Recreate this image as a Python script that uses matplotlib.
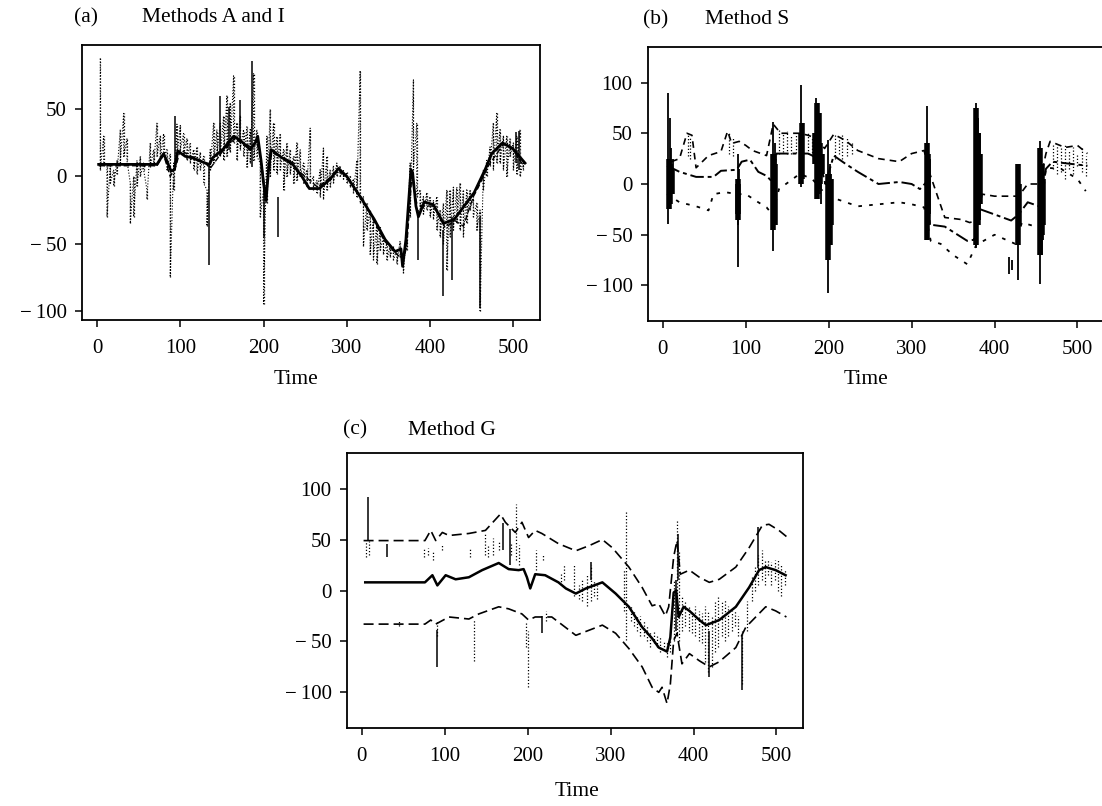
import numpy as np
import matplotlib
matplotlib.use("Agg")
import matplotlib.pyplot as plt
from matplotlib.ticker import FuncFormatter

plt.rcParams['font.family'] = ['Liberation Serif', 'DejaVu Serif']
plt.rcParams['font.size'] = 14

# ---------------- data: panel (a) ----------------
a_trend_t = [2, 72, 80, 89, 93, 97, 106, 114, 130, 135, 139, 151, 164, 172, 184, 190, 193, 197,
             200, 203, 206, 209, 222, 234, 246, 255, 267, 280, 290, 300, 317, 333, 346, 358, 365,
             367, 371, 377, 379, 383, 386, 393, 404, 416, 429, 441, 453, 466, 474, 487, 499, 514]
a_trend_v = [9, 9, 17, 4, 5, 19, 15, 14, 10, 9, 14, 20, 30, 27, 20, 25, 30, 12,
             -5, -18, 5, 20, 14, 10, 0, -9, -9, -2, 6, 0, -16, -32, -47, -56, -54,
             -67, -47, 5, 3, -22, -30, -19, -21, -35, -32, -22, -12, 5, 17, 25, 21, 10]
a_alt_t = [2, 72, 80, 88, 95, 100, 110, 130, 136, 150, 165, 185, 192, 198, 202, 210, 225, 250,
           265, 290, 300, 320, 345, 360, 368, 372, 378, 384, 390, 405, 418, 430, 440, 452, 458,
           470, 488, 500, 512]
a_alt_v = [8, 8, 16, 0, 8, 20, 16, 10, 6, 18, 28, 22, 26, 8, -12, 18, 13, 0,
           -8, 4, 0, -18, -48, -58, -62, -52, 0, -20, -22, -22, -38, -33, -37, -15, -8,
           8, 24, 20, 8]
a_obs_t = [4, 8, 12, 16, 20, 24, 28, 32, 36, 40, 44, 48, 52, 56, 60, 64, 68, 72, 76, 80,
           84, 88, 92, 96, 100, 104, 108, 112, 116, 120, 124, 128, 132, 136, 140, 144, 148,
           152, 156, 160, 164, 168, 172, 176, 180, 184, 188, 192, 196, 200, 204, 208, 212,
           216, 220, 224, 228, 232, 236, 240, 244, 248, 252, 256, 260, 264, 268, 272, 276,
           280, 284, 288, 292, 296, 300, 304, 308, 312, 316, 320, 324, 328, 332, 336, 340,
           344, 348, 352, 356, 360, 364, 368, 372, 376, 380, 384, 388, 392, 396, 400, 404,
           408, 412, 416, 420, 424, 428, 432, 436, 440, 444, 448, 452, 456, 460, 464, 468,
           472, 476, 480, 484, 488, 492, 496, 500, 504, 508, 512]
a_obs_lo = [5, 8, -30, -5, -7, 2, 10, 15, 12, -35, -30, -7, 0, 5, -17, 7, 8, 15, 12, 15,
            5, -75, -10, 15, 20, 17, 12, 10, 5, 2, 5, -5, -37, 5, 10, 15, 15,
            12, 15, 18, 25, 12, 20, 15, 7, 10, 12, 15, -30, -95, -20, 0, 5,
            2, 5, -10, 0, 2, -5, -3, 0, -5, -8, -5, -10, -12, -15, -17, -10,
            -8, -5, 0, 0, -2, -5, -8, -12, -15, -20, -52, -40, -58, -62, -65, -55,
            -58, -62, -60, -62, -65, -60, -72, -55, -30, 5, -15, -25, -28, -25, -30, -32,
            -40, -45, -50, -70, -45, -40, -35, -40, -45, -35, -25, -30, -40, -100, -10, 0,
            8, 5, 10, 10, 5, 0, 15, 5, 2, 0, 5]
a_obs_hi = [88, 30, 10, 8, 5, 12, 35, 47, 28, -5, 0, 12, 15, 10, -10, 25, 20, 40, 30, 32,
            20, 17, 10, 39, 38, 32, 28, 25, 20, 22, 18, 15, -10, 20, 40, 35, 40,
            45, 60, 55, 75, 40, 45, 35, 37, 35, 77, 35, 10, -10, 30, 50, 40,
            30, 32, 20, 25, 20, 15, 25, 20, 10, 5, 36, 0, -3, 5, 22, 15,
            5, 8, 10, 8, 5, 3, 0, -2, 12, 79, -15, -20, -25, -30, -35, -38,
            -45, -50, -52, -52, -55, -48, -58, -40, 10, 72, 40, -10, -15, -12, -15, -18,
            -15, -25, -20, -10, -10, -8, -8, -5, -10, -10, -10, -15, -20, -25, 5, 12,
            22, 40, 47, 35, 30, 30, 28, 25, 30, 35, 12]
a_spk_t = [94, 135, 148, 159, 172, 186, 200, 217, 385, 416, 426, 460, 503, 507]
a_spk_lo = [5, -66, 15, 20, 25, 7, -45, -45, -62, -89, -77, -98, 10, 5]
a_spk_hi = [45, 10, 60, 52, 57, 86, -5, -15, -25, -40, -30, -30, 33, 34]

# ---------------- data: panel (b) ----------------
b_up_t = [10, 20, 29, 35, 40, 55, 70, 78, 83, 92, 100, 108, 125, 133, 142, 165, 175, 185,
          195, 206, 220, 235, 260, 285, 300, 315, 322, 340, 360, 370, 378, 385, 400, 429,
          440, 454, 462, 467, 485, 500, 512]
b_up_v = [22, 25, 50, 48, 16, 28, 32, 52, 40, 42, 38, 33, 28, 59, 50, 50, 48, 45,
          35, 49, 43, 33, 25, 22, 30, 33, 10, -33, -35, -38, -36, -10, -12, -12,
          0, 0, 30, 42, 36, 38, 30]
b_mid_t = [5, 20, 40, 61, 70, 89, 95, 105, 115, 125, 132, 137, 150, 165, 175, 188, 196, 206,
           220, 235, 260, 285, 300, 310, 318, 322, 340, 367, 375, 383, 400, 420, 429, 440,
           454, 462, 470, 490, 512]
b_mid_v = [18, 12, 7, 7, 13, 14, 22, 24, 12, 8, 2, 30, 30, 30, 30, 25, 0, 28,
           20, 12, 0, 2, 0, -5, 2, -40, -42, -56, -55, -25, -30, -36, -30, -18,
           -22, 15, 22, 20, 18]
b_lo_t = [5, 20, 40, 55, 61, 75, 89, 100, 115, 125, 132, 140, 165, 180, 196, 210, 235, 260,
          285, 300, 315, 323, 335, 350, 367, 378, 400, 425, 433, 454, 462, 480, 500, 510]
b_lo_v = [-10, -18, -22, -26, -10, -8, -10, -10, -18, -23, -30, -5, 10, 5, -10, -15, -22, -20,
          -18, -20, -23, -56, -59, -70, -79, -60, -50, -59, -38, -43, 16, 15, 5, -7]
b_spk_t = [6, 8, 10, 12, 90, 91, 92, 133, 135, 136, 167, 168, 185, 187, 189, 191, 199, 201,
           203, 318, 320, 322, 378, 380, 382, 417, 421, 428, 430, 455, 457, 459]
b_spk_lo = [-39, -25, -20, -10, -82, -40, -30, -66, -40, -20, -3, 0, -13, -5, -10, -20, -107, -60,
            -40, -52, -40, -30, -63, -40, -35, -89, -85, -95, -50, -99, -70, -55]
b_spk_hi = [90, 65, 35, 25, 30, 5, 15, 61, 40, 30, 98, 60, 85, 70, 60, 40, 43, 20,
            10, 77, 40, 25, 80, 65, 50, -72, -75, 19, 0, 42, 20, 10]
b_core_t = [7, 9, 11, 90, 91, 133, 135, 166, 168, 184, 186, 188, 190, 192, 199, 201, 203,
            318, 320, 378, 380, 382, 428, 430, 455, 457, 459]
b_core_lo = [-25, -20, -10, -35, -30, -45, -40, 0, 5, 20, -15, -5, 0, 10, -75, -60, -40,
             -55, -40, -60, -40, -20, -60, -40, -70, -50, -40]
b_core_hi = [25, 20, 15, 5, 0, 30, 20, 50, 60, 50, 80, 70, 40, 30, 10, 0, 5,
             40, 30, 75, 50, 30, 20, 0, 35, 20, 5]
b_obs_t = [30, 33, 80, 84, 140, 145, 150, 155, 160, 175, 180, 208, 212, 216, 222, 228, 470,
           475, 480, 485, 490, 495, 500, 505, 510]
b_obs_lo = [28, 25, 30, 28, 30, 32, 30, 30, 31, 30, 28, 25, 30, 25, 28, 30, 15,
            10, 12, 5, 15, 10, 18, 12, 8]
b_obs_hi = [48, 45, 50, 45, 55, 50, 52, 48, 50, 50, 45, 50, 45, 48, 46, 40, 40,
            38, 35, 38, 33, 36, 30, 35, 28]

# ---------------- data: panel (c) ----------------
c_up_t = [2, 76, 83, 89, 97, 105, 129, 149, 167, 173, 185, 193, 201, 209, 217, 237, 258,
          274, 290, 302, 322, 338, 350, 358, 366, 370, 376, 380, 384, 395, 407, 419, 431,
          451, 467, 483, 491, 503, 512]
c_up_v = [49, 49, 59, 49, 57, 54, 56, 59, 75, 67, 57, 67, 52, 59, 56, 46, 39,
          44, 50, 42, 23, 3, -15, -13, -25, -16, 33, 49, 16, 20, 13, 8, 11,
          23, 42, 64, 65, 59, 53]
c_mid_t = [4, 76, 85, 91, 101, 113, 129, 145, 165, 177, 189, 195, 199, 203, 209, 221, 237,
           246, 258, 270, 290, 306, 322, 338, 350, 358, 368, 372, 376, 379, 382, 388, 395,
           407, 415, 431, 451, 467, 479, 487, 499, 511]
c_mid_v = [8, 8, 15, 5, 15, 11, 13, 20, 27, 21, 20, 21, 13, 2, 16, 15, 8,
           2, -3, 2, 8, -3, -16, -36, -47, -56, -60, -46, -2, 0, -26, -16, -20,
           -29, -34, -29, -16, 3, 20, 23, 20, 15]
c_lo_t = [2, 76, 83, 89, 105, 129, 141, 165, 177, 193, 201, 209, 229, 242, 258, 274, 290,
          306, 322, 338, 350, 358, 362, 368, 372, 376, 380, 386, 395, 407, 419, 431, 451,
          463, 475, 487, 499, 512]
c_lo_v = [-33, -33, -29, -33, -26, -28, -23, -16, -18, -23, -29, -26, -26, -34, -44, -39, -34,
          -42, -57, -75, -95, -100, -95, -111, -92, -49, -42, -72, -62, -69, -75, -70, -56,
          -36, -26, -16, -20, -26]
c_obs_t = [5, 9, 45, 75, 80, 86, 90, 96, 130, 135, 148, 152, 158, 165, 180,
           186, 190, 198, 200, 210, 218, 222, 240, 244, 256, 262, 266, 272, 276, 280, 284,
           316, 319, 324, 328, 332, 336, 340, 344, 348, 352, 356, 360, 364, 368, 372,
           376, 380, 383, 386, 390, 394, 398, 402, 406, 410, 414, 418, 422, 426, 430,
           434, 438, 442, 446, 450, 454, 459, 464, 470, 474, 478, 482, 486, 490,
           494, 498, 502, 506, 510]
c_obs_lo = [33, 35, -35, 33, 35, 30, -45, 40, 33, -69, 35, 33, 35, 40, 35,
            30, 25, -55, -95, 20, 30, -30, 5, 10, -5, -8, -10, -15, -10, -5, -8,
            -20, -49, -30, -35, -40, -45, -45, -50, -55, -52, -55, -60, -58, -65, -60,
            -50, -45, -50, -40, -35, -40, -42, -45, -50, -52, -70, -80, -75, -60, -55,
            -45, -50, -45, -40, -35, -45, -92, -40, -10, 0, 5, 10, 5, 15,
            5, 10, 0, -5, 5]
c_obs_hi = [48, 49, -30, 42, 42, 38, -30, 45, 42, -28, 55, 45, 52, 48, 48,
            85, 45, -30, -40, 40, 36, -20, 18, 25, 25, 5, 10, 15, 25, 10, 5,
            20, 78, -15, -20, -25, -25, -30, -35, -40, -40, -45, -45, -50, -50, -45,
            10, 69, 40, -5, -10, -15, -20, -15, -20, -22, -15, -20, -25, -10, -5,
            -10, -8, -15, -20, -20, -25, -40, -10, 15, 25, 35, 40, 30, 30,
            28, 30, 30, 25, 20]
c_spk_t = [7, 30, 90, 170, 178, 217, 276, 379, 381, 419, 459, 478]
c_spk_lo = [49, 33, -75, 40, 25, -42, 10, -40, 10, -85, -98, 22]
c_spk_hi = [92, 46, -39, 66, 60, -25, 28, 10, 55, -40, -45, 62]

TICKS_X = [0, 100, 200, 300, 400, 500]
A_TICKS_Y = [-100, -50, 0, 50]
BC_TICKS_Y = [-100, -50, 0, 50, 100]

W, H = 1102, 806
fig = plt.figure(figsize=(W / 100, H / 100), dpi=100)


def ax_at(l, t, r, b):
    return fig.add_axes([l / W, 1 - b / H, (r - l) / W, (b - t) / H])


def fmt(v, pos):
    v = int(round(v))
    return ("\u2212\u2009" + str(-v)) if v < 0 else str(v)


def style(ax, ylim, yticks):
    ax.set_xlim(-18, 532)
    ax.set_ylim(*ylim)
    ax.set_xticks(TICKS_X)
    ax.set_yticks(yticks)
    ax.yaxis.set_major_formatter(FuncFormatter(fmt))
    ax.tick_params(direction='out', length=5, width=1.1, labelsize=15, pad=6,
                   top=False, right=False)
    ax.tick_params(axis='x', pad=9)
    for s in ax.spines.values():
        s.set_linewidth(1.3)


def zigzag(ax, t, lo, hi, **kw):
    t = np.asarray(t, float)
    x = np.repeat(t, 2)
    y = np.column_stack([hi, lo]).ravel()
    ax.plot(x, y, **kw)


DOT = (0, (1, 1.6))

# ---- panel (a)
axa = ax_at(82, 45, 540, 320)
zigzag(axa, a_obs_t, a_obs_lo, a_obs_hi, ls=DOT, lw=0.8, color='black')
axa.vlines(a_obs_t, a_obs_lo, a_obs_hi, color='black', lw=0.9, linestyles=[DOT])
axa.vlines(a_spk_t, a_spk_lo, a_spk_hi, color='black', lw=1.1)
axa.plot(a_alt_t, a_alt_v, ls=(0, (4, 2)), lw=1.0, color='black')
axa.plot(a_trend_t, a_trend_v, '-', lw=2.0, color='black')
style(axa, (-107, 98), A_TICKS_Y)

# ---- panel (b)
axb = ax_at(648, 47, 1104, 321)
axb.vlines(b_obs_t, b_obs_lo, b_obs_hi, color='black', lw=0.9, linestyles=[DOT])
axb.plot(b_up_t, b_up_v, ls=(0, (4, 3)), lw=1.2, color='black')
axb.plot(b_mid_t, b_mid_v, ls=(0, (7, 2, 2, 2)), lw=1.4, color='black')
axb.plot(b_lo_t, b_lo_v, ls=(0, (2, 4)), lw=1.3, color='black')
axb.vlines(b_spk_t, b_spk_lo, b_spk_hi, color='black', lw=1.3)
axb.vlines(b_core_t, b_core_lo, b_core_hi, color='black', lw=4.0)
style(axb, (-135, 135), BC_TICKS_Y)

# ---- panel (c)
axc = ax_at(347, 453, 803, 728)
axc.vlines(c_obs_t, c_obs_lo, c_obs_hi, color='black', lw=0.9, linestyles=[DOT])
axc.vlines(c_spk_t, c_spk_lo, c_spk_hi, color='black', lw=1.1)
axc.plot(c_up_t, c_up_v, ls=(0, (6, 3)), lw=1.2, color='black')
axc.plot(c_lo_t, c_lo_v, ls=(0, (6, 3)), lw=1.2, color='black')
axc.plot(c_mid_t, c_mid_v, '-', lw=1.8, color='black')
style(axc, (-135, 135), BC_TICKS_Y)

# ---- titles and axis labels
def ftext(x, y, s, **kw):
    fig.text(x / W, 1 - y / H, s, fontsize=15.5, va='center', **kw)

ftext(74, 18, "(a)")
ftext(142, 18, "Methods A and I")
ftext(643, 20, "(b)")
ftext(705, 20, "Method S")
ftext(343, 430, "(c)")
ftext(408, 430, "Method G")
ftext(296, 380, "Time", ha='center')
ftext(866, 380, "Time", ha='center')
ftext(577, 792, "Time", ha='center')

fig.savefig("out.png", dpi=100)
